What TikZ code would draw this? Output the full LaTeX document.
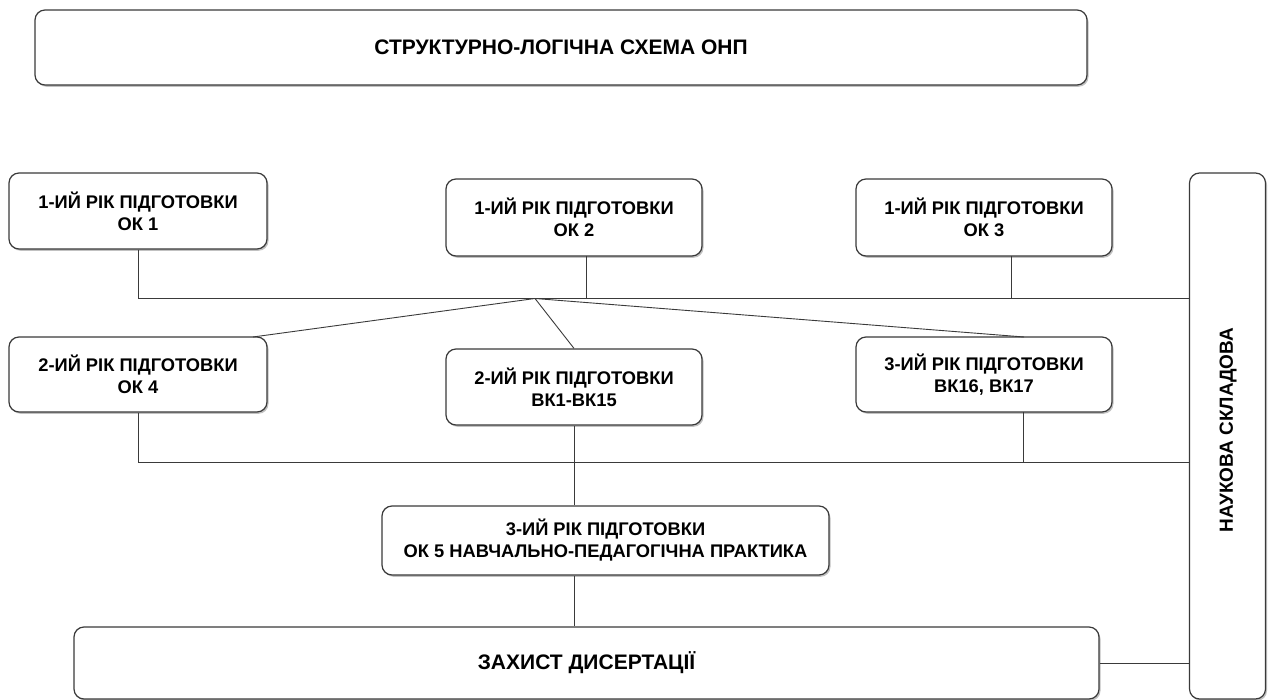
\documentclass[tikz,border=0pt]{standalone}
\usepackage{fontspec}
\setmainfont{Liberation Sans}
\usetikzlibrary{shadows}
\definecolor{linec}{HTML}{3A3A3A}
\tikzset{
  box/.style={draw=linec, line width=1.2pt, rounded corners=10pt, fill=white, inner sep=0pt, align=center,
    font=\fontsize{18.3}{22}\selectfont\bfseries,
    drop shadow={shadow xshift=1.5pt, shadow yshift=-1.8pt, opacity=0.35, fill=black!70}},
  bigbox/.style={box, font=\fontsize{21}{24}\selectfont\bfseries},
  conn/.style={draw=linec, line width=0.9pt}
}
\begin{document}
\begin{tikzpicture}[x=1pt,y=-1pt]
\useasboundingbox (0,0) rectangle (1269,700);
\node[bigbox, minimum width=1052, minimum height=75] (title) at (561,47.5) {СТРУКТУРНО-ЛОГІЧНА СХЕМА ОНП};
\node[box, minimum width=258, minimum height=76] (ok1) at (138,211) {1-ИЙ РІК ПІДГОТОВКИ\\ОК 1};
\node[box, minimum width=256, minimum height=77] (ok2) at (574,217.5) {1-ИЙ РІК ПІДГОТОВКИ\\ОК 2};
\node[box, minimum width=256, minimum height=77] (ok3) at (984,217.5) {1-ИЙ РІК ПІДГОТОВКИ\\ОК 3};
\node[box, minimum width=258, minimum height=75] (ok4) at (138,374.5) {2-ИЙ РІК ПІДГОТОВКИ\\ОК 4};
\node[box, minimum width=256, minimum height=76] (bk1) at (574,387) {2-ИЙ РІК ПІДГОТОВКИ\\ВК1-ВК15};
\node[box, minimum width=256, minimum height=75] (bk16) at (984,374.5) {3-ИЙ РІК ПІДГОТОВКИ\\ВК16, ВК17};
\node[box, minimum width=447, minimum height=69] (ok5) at (605.5,540.5) {3-ИЙ РІК ПІДГОТОВКИ\\ОК 5 НАВЧАЛЬНО-ПЕДАГОГІЧНА ПРАКТИКА};
\node[bigbox, minimum width=1025, minimum height=72] (def) at (586.5,663) {ЗАХИСТ ДИСЕРТАЦІЇ};
\node[box, minimum width=76, minimum height=526] (sci) at (1227.5,436) {};
\node[font=\fontsize{19}{22}\selectfont\bfseries, rotate=90, inner sep=0pt] (scitext) at (1228,430) {НАУКОВА СКЛАДОВА};
% connector anchor points on box edges
\coordinate (bus1) at (535,298.5);
\coordinate (bus2) at (137,462);
\coordinate (ok2b) at (586,256);
\coordinate (ok3b) at (1011,256);
\coordinate (ok4t) at (253,337);
\coordinate (bk16t) at (1024,337);
\coordinate (bk16b) at (1023,412);
% first bus
\draw[conn] (ok1.south) |- (sci.west |- bus1);
\draw[conn] (ok2b) -- (ok2b |- bus1);
\draw[conn] (ok3b) -- (ok3b |- bus1);
% fan from hub
\draw[conn] (bus1) -- (ok4t);
\draw[conn] (bus1) -- (bk1.north);
\draw[conn] (bus1) -- (bk16t);
% second bus
\draw[conn] (ok4.south) |- (sci.west |- bus2);
\draw[conn] (bk16b) -- (bk16b |- bus2);
\draw[conn] (bk1.south) -- (bk1.south |- ok5.north);
\draw[conn] (bk1.south |- ok5.south) -- (bk1.south |- def.north);
\draw[conn] (def.east) -- (sci.west |- def.east);
\end{tikzpicture}
\end{document}
